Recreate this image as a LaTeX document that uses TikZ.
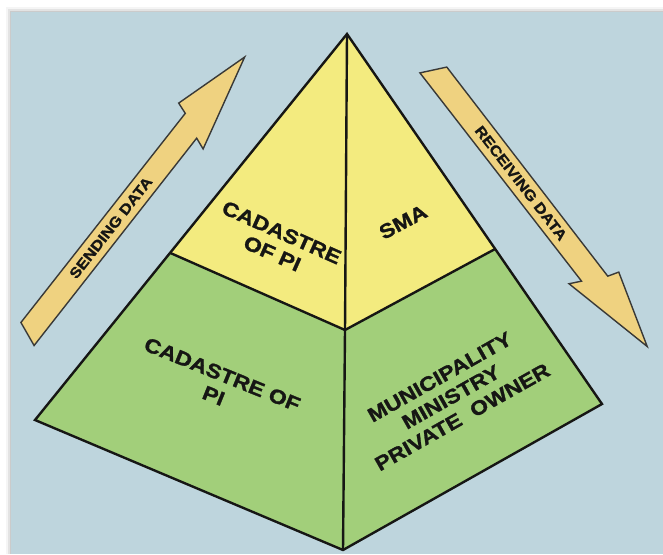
\documentclass[tikz,border=0pt]{standalone}
\usepackage{fontspec}
\setmainfont{Liberation Sans}
\newfontfamily\pyrfont[FakeStretch=1.15, BoldFeatures={FakeBold=1.3}]{Liberation Sans}
\usetikzlibrary{calc}

\definecolor{skyback}{RGB}{190,213,221}
\definecolor{topyellow}{RGB}{243,235,127}
\definecolor{basegreen}{RGB}{162,207,122}
\definecolor{arrowfill}{RGB}{239,210,128}
\definecolor{inkdark}{RGB}{22,22,20}

\begin{document}
\begin{tikzpicture}[x=1pt, y=-1pt,
   edge/.style={line width=2.4pt, line join=miter, draw=inkdark},
   dataarrow/.style={fill=arrowfill, draw=inkdark!85, line width=1.4pt, line join=miter},
   lbl/.style={font=\pyrfont\bfseries\fontsize{20}{23}\selectfont, align=center, text=inkdark, inner sep=0pt},
   arrowlbl/.style={font=\pyrfont\bfseries\fontsize{14.5}{16}\selectfont, text=inkdark, inner sep=0pt}]
   % Fundo e moldura
   \useasboundingbox (0,0) rectangle (663,554);
   \fill[white] (0,0) rectangle (663,554);
   \foreach \s/\o in {5/0.04, 3/0.07, 1.5/0.1}
      \fill[black, opacity=\o] (11-\s,12-\s) rectangle (663,554);
   \fill[skyback] (11,12) rectangle (663,554);

   % Vértices da pirâmide
   \coordinate (apex)   at (347,34);
   \coordinate (left)   at (35,420);
   \coordinate (right)  at (602,404);
   \coordinate (bottom) at (343,550);
   \coordinate (centre) at (345,330);
   \coordinate (lmid)   at ($(apex)!0.567!(left)$);
   \coordinate (rmid)   at ($(apex)!0.581!(right)$);

   % Faces
   \fill[topyellow] (apex) -- (lmid) -- (centre) -- (rmid) -- cycle;
   \fill[basegreen] (lmid) -- (left) -- (bottom) -- (right) -- (rmid) -- (centre) -- cycle;

   % Arestas
   \draw[edge] (apex) -- (left) -- (bottom) -- (right) -- cycle;
   \draw[edge] (apex) -- (centre) -- (bottom);
   \draw[edge] (lmid) -- (centre) -- (rmid);

   % Rótulos das faces
   \node[lbl, rotate=-24]   (cadtop) at (277,243) {CADASTRE\\OF PI};
   \node[lbl, rotate=28]    (sma)    at (403,222) {SMA};
   \node[lbl, rotate=-22]   (cadlow) at (218,385) {CADASTRE OF\\PI};
   \node[lbl, rotate=29.5]  (owners) at (451,397) {MUNICIPALITY\\MINISTRY\\PRIVATE\ \ OWNER};

   % Seta de envio
   \begin{scope}[shift={(27.5,334)}, rotate=51.9]
      \draw[dataarrow] (5,-12.3) -- (271,-12) -- (275,-23.5) -- (352,0) -- (254,24) -- (258.5,12.3) -- (-5,12.3) -- cycle;
      \node[arrowlbl, rotate=51.9] (sending) at (135,0) {SENDING DATA};
   \end{scope}

   % Seta de recepção
   \begin{scope}[shift={(433.5,70)}, rotate=-52.3]
      \draw[dataarrow] (5.8,-12.3) -- (269.7,-11.8) -- (273.2,-23) -- (349.5,0) -- (252,23.5) -- (257.6,12) -- (-6,12.5) -- cycle;
      \node[arrowlbl, rotate=-52.3] (receiving) at (143,0) {RECEIVING DATA};
   \end{scope}
\end{tikzpicture}
\end{document}
